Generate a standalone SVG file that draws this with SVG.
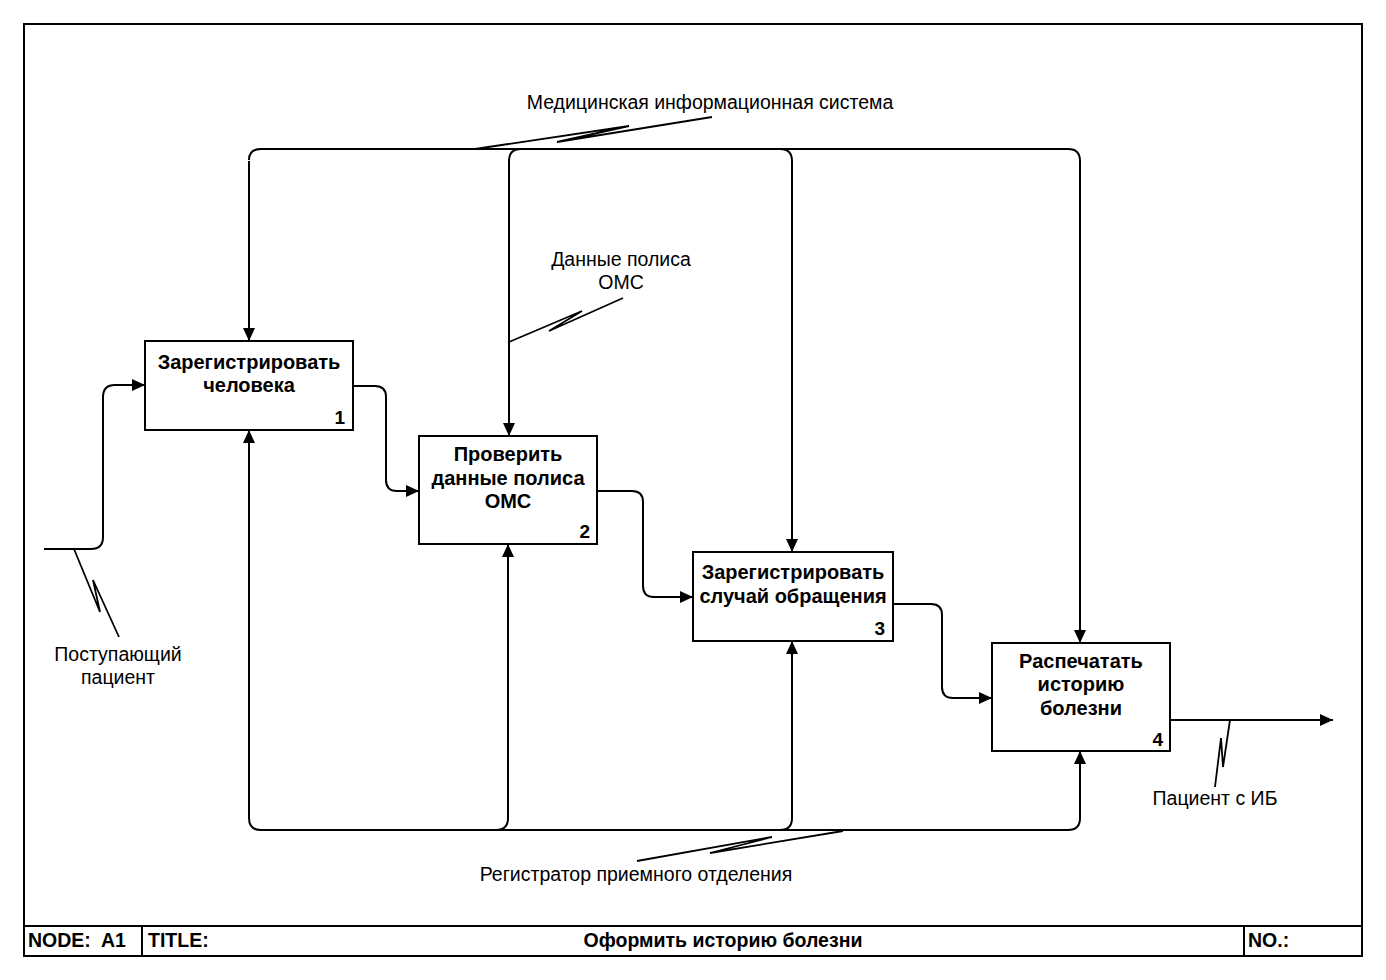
<svg xmlns="http://www.w3.org/2000/svg" width="1386" height="980" viewBox="0 0 1386 980">
<style>
.box{fill:#fff;stroke:#000;stroke-width:2}
.ln{fill:none;stroke:#000;stroke-width:2}
.sq{fill:none;stroke:#000;stroke-width:1.8;stroke-linejoin:miter}
.t{font-family:"Liberation Sans",Arial,sans-serif;font-size:19.5px;fill:#000;text-anchor:middle}
.b{font-family:"Liberation Sans",Arial,sans-serif;font-size:20px;font-weight:bold;fill:#000;text-anchor:middle}
.n{font-family:"Liberation Sans",Arial,sans-serif;font-size:19px;font-weight:bold;fill:#000;text-anchor:end}
.f{font-family:"Liberation Sans",Arial,sans-serif;font-size:19.5px;font-weight:bold;fill:#000}
</style>
<defs>
<marker id="ah" markerUnits="userSpaceOnUse" markerWidth="14" markerHeight="12" refX="13" refY="6" orient="auto">
<path d="M0,0 L13,6 L0,12 z" fill="#000"/>
</marker>
</defs>
<rect width="1386" height="980" fill="#fff"/>
<g id="frame">
<rect x="24" y="24" width="1338" height="932" class="ln"/>
<line x1="24" y1="926" x2="1362" y2="926" class="ln"/>
<line x1="142" y1="926" x2="142" y2="956" class="ln"/>
<line x1="1244" y1="926" x2="1244" y2="956" class="ln"/>
<text x="28" y="947" class="f" xml:space="preserve">NODE:  A1</text>
<text x="148" y="947" class="f">TITLE:</text>
<text x="723" y="947" class="f" text-anchor="middle">Оформить историю болезни</text>
<text x="1248" y="947" class="f">NO.:</text>
</g>
<g id="connectors">
<path class="ln" d="M249,160 Q249,149 261,149 H1068 Q1080,149 1080,161 V643" marker-end="url(#ah)"/>
<path class="ln" d="M249,161 V341" marker-end="url(#ah)"/>
<path class="ln" d="M509,436 V161 Q509,149 521,149 H780 Q792,149 792,161 V552" marker-end="url(#ah)"/>
<path class="ln" d="M509,161 V436" marker-end="url(#ah)"/>
<path class="ln" d="M249,818 Q249,830 261,830 H1068 Q1080,830 1080,818 V751" marker-end="url(#ah)"/>
<path class="ln" d="M249,818 V430" marker-end="url(#ah)"/>
<path class="ln" d="M496,830 Q508,830 508,818 V544" marker-end="url(#ah)"/>
<path class="ln" d="M780,830 Q792,830 792,818 V641" marker-end="url(#ah)"/>
<path class="ln" d="M44,549 H91 Q103,549 103,537 V397 Q103,385 115,385 H145" marker-end="url(#ah)"/>
<path class="ln" d="M353,386 H375 Q386,386 386,397 V480 Q386,491 397,491 H419" marker-end="url(#ah)"/>
<path class="ln" d="M597,491 H632 Q643,491 643,502 V586 Q643,597 654,597 H693" marker-end="url(#ah)"/>
<path class="ln" d="M893,604 H931 Q942,604 942,615 V687 Q942,698 953,698 H992" marker-end="url(#ah)"/>
<path class="ln" d="M1170,720 H1333" marker-end="url(#ah)"/>
<path class="sq" d="M475,149 L629,126 L557,142 L712,117"/>
<path class="sq" d="M509,342 L582,311 L549,331 L623,298"/>
<path class="sq" d="M74,549 L100,612 L93,580 L119,637"/>
<path class="sq" d="M1230,720 L1223,767 L1221,738 L1215,787"/>
<path class="sq" d="M843,831 L710,853 L772,837 L637,861"/>
</g>
<g id="labels">
<text x="710" y="109" class="t">Медицинская информационная система</text>
<text x="621" y="266" class="t">Данные полиса</text>
<text x="621" y="289" class="t">ОМС</text>
<text x="118" y="661" class="t">Поступающий</text>
<text x="118" y="684" class="t">пациент</text>
<text x="1215" y="805" class="t">Пациент с ИБ</text>
<text x="636" y="881" class="t">Регистратор приемного отделения</text>
</g>
<g id="node1">
<rect x="145" y="341" width="208" height="89" class="box"/>
<text x="249" y="369" class="b">Зарегистрировать</text>
<text x="249" y="392" class="b">человека</text>
<text x="345" y="424" class="n">1</text>
</g>
<g id="node2">
<rect x="419" y="436" width="178" height="108" class="box"/>
<text x="508" y="461" class="b">Проверить</text>
<text x="508" y="485" class="b">данные полиса</text>
<text x="508" y="508" class="b">ОМС</text>
<text x="590" y="538" class="n">2</text>
</g>
<g id="node3">
<rect x="693" y="552" width="200" height="89" class="box"/>
<text x="793" y="579" class="b">Зарегистрировать</text>
<text x="793" y="603" class="b">случай обращения</text>
<text x="885" y="635" class="n">3</text>
</g>
<g id="node4">
<rect x="992" y="643" width="178" height="108" class="box"/>
<text x="1081" y="668" class="b">Распечатать</text>
<text x="1081" y="691" class="b">историю</text>
<text x="1081" y="715" class="b">болезни</text>
<text x="1163" y="746" class="n">4</text>
</g>
</svg>
